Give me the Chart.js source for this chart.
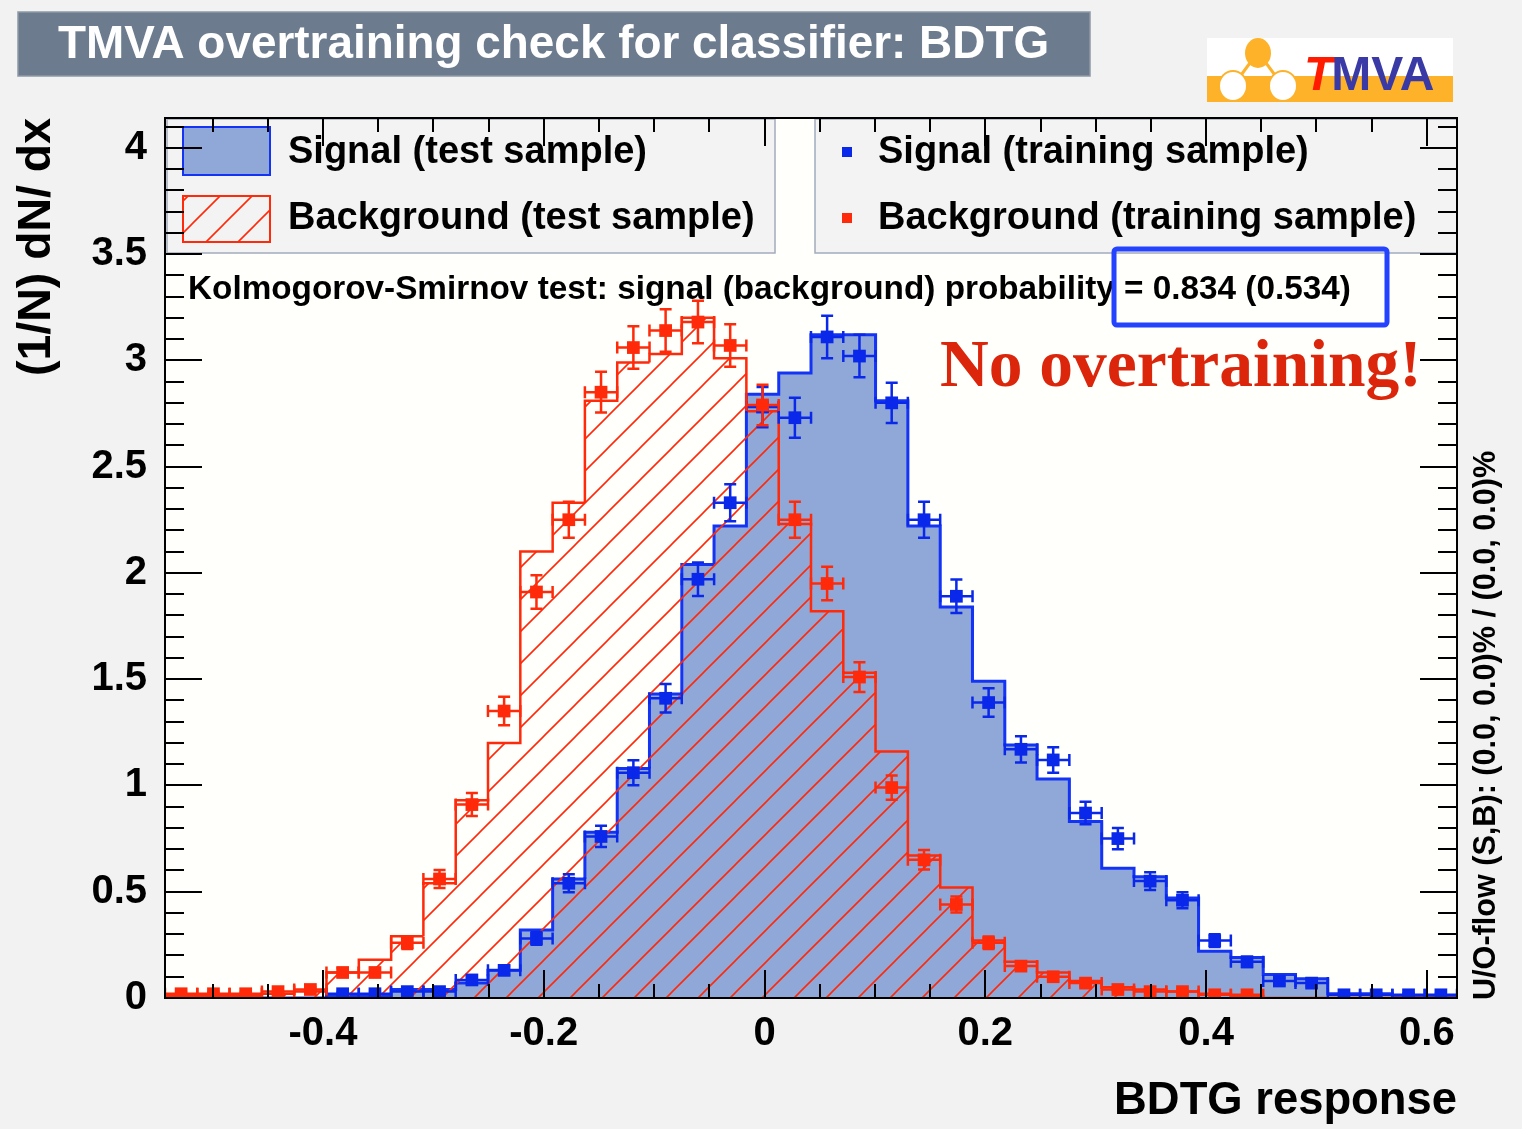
<!DOCTYPE html>
<html><head><meta charset="utf-8">
<script src="https://cdn.jsdelivr.net/npm/chart.js@4.4.1/dist/chart.umd.min.js"></script>
<style>html,body{margin:0;padding:0;background:#f2f2f2;overflow:hidden}canvas{display:block}</style>
</head><body>
<canvas id="c" width="1522" height="1129" style="width:1522px;height:1129px"></canvas>
<script>
// ---------------- data ----------------
const BIN_CENTERS = [-0.5285,-0.4992,-0.4700,-0.4407,-0.4114,-0.3822,-0.3529,-0.3236,-0.2944,-0.2651,
  -0.2359,-0.2066,-0.1773,-0.1481,-0.1188,-0.0896,-0.0603,-0.0311,-0.0018,0.0275,
  0.0567,0.0860,0.1152,0.1445,0.1738,0.2030,0.2323,0.2615,0.2908,0.3201,
  0.3493,0.3786,0.4078,0.4371,0.4664,0.4956,0.5249,0.5541,0.5834,0.6127];
const BIN_WIDTH = 0.02926;
const X_MIN = -0.5431, X_MAX = 0.6273;
const Y_MIN = 0, Y_MAX = 4.14;
const X_TICKS = [-0.4, -0.2, 0, 0.2, 0.4, 0.6];
const Y_TICKS = [0, 0.5, 1, 1.5, 2, 2.5, 3, 3.5, 4];
const X_MINOR = 0.05, Y_MINOR = 0.1;

const SIG_TEST = [0,0,0,0,0,0.01,0.01,0.04,0.04,0.07,
  0.13,0.32,0.56,0.78,1.08,1.43,2.04,2.22,2.84,2.94,
  3.12,3.12,2.81,2.22,1.84,1.49,1.19,1.03,0.83,0.61,
  0.57,0.47,0.22,0.19,0.11,0.09,0.02,0.02,0.01,0.01];
const BKG_TEST = [0.01,0.01,0.01,0.02,0.03,0.12,0.18,0.29,0.54,0.93,
  1.20,2.10,2.33,2.81,2.99,3.03,3.20,3.01,2.76,2.23,
  1.82,1.53,1.16,0.67,0.52,0.27,0.17,0.12,0.08,0.05,
  0.04,0.03,0.02,0.01,0,0,0,0,0,0];
const SIG_TRAIN = [null,null,null,null,null,0.02,0.02,0.03,0.03,0.085,
  0.13,0.28,0.54,0.76,1.06,1.41,1.97,2.33,2.78,2.73,
  3.11,3.02,2.80,2.25,1.89,1.39,1.17,1.12,0.87,0.75,
  0.55,0.46,0.27,0.17,0.08,0.07,0.015,0.015,0.015,0.015];
const SIG_TRAIN_ERR = [0,0,0,0,0,0.008,0.008,0.01,0.01,0.016,
  0.02,0.03,0.042,0.05,0.059,0.067,0.079,0.087,0.095,0.094,
  0.10,0.10,0.095,0.085,0.079,0.067,0.062,0.06,0.053,0.05,
  0.042,0.038,0.03,0.024,0.016,0.015,0.007,0.007,0.007,0.007];
const BKG_TRAIN = [0.02,0.02,0.02,0.03,0.04,0.12,0.12,0.26,0.56,0.91,
  1.35,1.91,2.25,2.85,3.06,3.14,3.18,3.07,2.79,2.25,
  1.95,1.51,0.99,0.65,0.44,0.26,0.15,0.10,0.07,0.04,
  0.03,0.03,0.015,0.015,null,null,null,null,null,null];
const BKG_TRAIN_ERR = [0.008,0.008,0.008,0.01,0.011,0.02,0.02,0.029,0.042,0.054,
  0.067,0.079,0.085,0.096,0.10,0.10,0.10,0.10,0.095,0.085,
  0.079,0.07,0.057,0.046,0.038,0.029,0.022,0.018,0.015,0.011,
  0.01,0.01,0.007,0.007,0,0,0,0,0,0];

const TITLE = 'TMVA overtraining check for classifier: BDTG';
const X_TITLE = 'BDTG response';
const Y_TITLE = '(1/N) dN/ dx';
const LEGEND_LEFT = ['Signal (test sample)', 'Background (test sample)'];
const LEGEND_RIGHT = ['Signal (training sample)', 'Background (training sample)'];
const KS_TEXT = 'Kolmogorov-Smirnov test: signal (background) probability = 0.834 (0.534)';
const NOTE = 'No overtraining!';
const OVERFLOW = 'U/O-flow (S,B): (0.0, 0.0)% / (0.0, 0.0)%';

// ---------------- styles ----------------
const SANS = '"Liberation Sans", Arial, Helvetica, sans-serif';
const SERIF = '"Liberation Serif", "Times New Roman", serif';
const BLUE_LINE = '#1434f5', BLUE_FILL = '#90a8d8', BLUE_PT = '#0a28ea';
const RED = '#ff2a0a';

const measureCtx = document.createElement('canvas').getContext('2d');
function fitSize(text, width, weight, family) {
  measureCtx.font = weight + ' 100px ' + family;
  return 100 * width / measureCtx.measureText(text).width;
}

function makeHatch(color, s, lw) {
  const c = document.createElement('canvas'); c.width = s; c.height = s;
  const g = c.getContext('2d');
  g.strokeStyle = color; g.lineWidth = lw;
  g.beginPath();
  for (const k of [0, 1, 2]) { g.moveTo(-2, k * s + 2); g.lineTo(k * s + 2, -2); }
  g.stroke();
  return g.createPattern(c, 'repeat');
}
const HATCH = makeHatch(RED, 32, 1.6);

function stepData(vals) {
  const d = [];
  vals.forEach((v, i) => {
    d.push({x: BIN_CENTERS[i] - BIN_WIDTH / 2, y: v});
    d.push({x: BIN_CENTERS[i] + BIN_WIDTH / 2, y: v});
  });
  return d;
}
function pointData(vals, errs) {
  const d = [];
  vals.forEach((v, i) => { if (v !== null) d.push({x: BIN_CENTERS[i], y: v, e: errs[i]}); });
  return d;
}

const yTitleSize = fitSize(Y_TITLE, 258, 'bold', SANS);
const xTitleSize = fitSize(X_TITLE, 343, 'bold', SANS);

// ---------------- plugin ----------------
const rootStyle = {
  id: 'rootStyle',
  beforeDraw(chart) {
    const {ctx, chartArea: a} = chart;
    ctx.save();
    ctx.fillStyle = '#f2f2f2'; ctx.fillRect(0, 0, chart.width, chart.height);
    ctx.fillStyle = '#fffffc'; ctx.fillRect(a.left, a.top, a.right - a.left, a.bottom - a.top);
    ctx.restore();
  },
  afterDatasetDraw(chart, args) {
    const ds = chart.data.datasets[args.index];
    if (!ds.errColor) return;
    const {ctx, chartArea: a, scales: {x, y}} = chart;
    ctx.save();
    ctx.beginPath(); ctx.rect(a.left, a.top, a.right - a.left, a.bottom - a.top); ctx.clip();
    ctx.strokeStyle = ds.errColor; ctx.lineWidth = 2.5;
    const cap = 6;
    ds.data.forEach(p => {
      const px = x.getPixelForValue(p.x), py = y.getPixelForValue(p.y);
      const x0 = x.getPixelForValue(p.x - BIN_WIDTH / 2), x1 = x.getPixelForValue(p.x + BIN_WIDTH / 2);
      const y0 = y.getPixelForValue(p.y + p.e), y1 = y.getPixelForValue(p.y - p.e);
      ctx.beginPath();
      ctx.moveTo(x0, py); ctx.lineTo(x1, py);
      ctx.moveTo(x0, py - cap); ctx.lineTo(x0, py + cap);
      ctx.moveTo(x1, py - cap); ctx.lineTo(x1, py + cap);
      ctx.moveTo(px, y0); ctx.lineTo(px, y1);
      ctx.moveTo(px - cap, y0); ctx.lineTo(px + cap, y0);
      ctx.moveTo(px - cap, y1); ctx.lineTo(px + cap, y1);
      ctx.stroke();
    });
    ctx.restore();
  },
  afterDatasetsDraw(chart) {
    const {ctx, chartArea: a} = chart;
    ctx.save();
    // legend boxes
    ctx.fillStyle = '#f3f3f3'; ctx.strokeStyle = '#a3abbb'; ctx.lineWidth = 1.5;
    ctx.fillRect(a.left + 2, a.top + 1, 608, 134); ctx.strokeRect(a.left + 2, a.top + 1, 608, 134);
    ctx.fillRect(815, a.top + 1, a.right - 815, 134); ctx.strokeRect(815, a.top + 1, a.right - 815, 134);
    // swatches
    ctx.fillStyle = BLUE_FILL; ctx.fillRect(183, 127, 87, 48);
    ctx.strokeStyle = BLUE_LINE; ctx.lineWidth = 2; ctx.strokeRect(183, 127, 87, 48);
    ctx.fillStyle = HATCH; ctx.fillRect(183, 196, 87, 46);
    ctx.strokeStyle = RED; ctx.strokeRect(183, 196, 87, 46);
    ctx.fillStyle = BLUE_PT; ctx.fillRect(842, 147, 10, 10);
    ctx.fillStyle = RED; ctx.fillRect(842, 213, 10, 10);
    ctx.fillStyle = '#000';
    ctx.font = 'bold 38px ' + SANS; ctx.textBaseline = 'alphabetic'; ctx.textAlign = 'left';
    ctx.fillText(LEGEND_LEFT[0], 288, 163);
    ctx.fillText(LEGEND_LEFT[1], 288, 229);
    ctx.fillText(LEGEND_RIGHT[0], 878, 163);
    ctx.fillText(LEGEND_RIGHT[1], 878, 229);
    ctx.restore();
  },
  afterDraw(chart) {
    const {ctx, chartArea: a, scales: {x, y}} = chart;
    ctx.save();
    // frame + ticks on all sides
    ctx.strokeStyle = '#000'; ctx.lineWidth = 2;
    ctx.strokeRect(a.left, a.top, a.right - a.left, a.bottom - a.top);
    ctx.beginPath();
    const eps = 1e-6;
    for (let v = Math.ceil(X_MIN / X_MINOR) * X_MINOR; v <= X_MAX + eps; v += X_MINOR) {
      const major = X_TICKS.some(t => Math.abs(t - v) < 1e-4);
      const L = major ? 28 : 14, px = Math.round(x.getPixelForValue(v));
      ctx.moveTo(px, a.bottom); ctx.lineTo(px, a.bottom - L);
      ctx.moveTo(px, a.top); ctx.lineTo(px, a.top + L);
    }
    for (let v = 0; v <= Y_MAX + eps; v += Y_MINOR) {
      const major = Y_TICKS.some(t => Math.abs(t - v) < 1e-4);
      const L = major ? 37 : 19, py = Math.round(y.getPixelForValue(v));
      ctx.moveTo(a.left, py); ctx.lineTo(a.left + L, py);
      ctx.moveTo(a.right, py); ctx.lineTo(a.right - L, py);
    }
    ctx.stroke();

    // KS text
    const ksSize = fitSize(KS_TEXT, 1162, 'bold', SANS);
    ctx.fillStyle = '#000'; ctx.font = 'bold ' + ksSize.toFixed(1) + 'px ' + SANS;
    ctx.textAlign = 'left'; ctx.textBaseline = 'alphabetic';
    ctx.fillText(KS_TEXT, 188, 287 + 0.358 * ksSize);

    // highlight box
    ctx.strokeStyle = '#2443ff'; ctx.lineWidth = 5;
    ctx.beginPath();
    if (ctx.roundRect) ctx.roundRect(1114, 249, 273, 76, 3); else ctx.rect(1114, 249, 273, 76);
    ctx.stroke();

    // annotation
    const nSize = fitSize(NOTE, 482, 'bold', SERIF);
    ctx.fillStyle = '#dc260c'; ctx.font = 'bold ' + nSize.toFixed(1) + 'px ' + SERIF;
    ctx.fillText(NOTE, 940, 386);

    // overflow text (rotated)
    const oSize = fitSize(OVERFLOW, 550, 'bold', SANS);
    ctx.save();
    ctx.translate(1487, 1000); ctx.rotate(-Math.PI / 2);
    ctx.fillStyle = '#000'; ctx.font = 'bold ' + oSize.toFixed(1) + 'px ' + SANS;
    ctx.textBaseline = 'middle'; ctx.textAlign = 'left';
    ctx.fillText(OVERFLOW, 0, 0);
    ctx.restore();

    // title box
    ctx.fillStyle = '#6c7b8d'; ctx.fillRect(18, 12, 1072, 64);
    ctx.strokeStyle = '#8e99a7'; ctx.lineWidth = 1.5; ctx.strokeRect(18, 12, 1072, 64);
    const tSize = fitSize(TITLE, 992, 'bold', SANS);
    ctx.fillStyle = '#ffffff'; ctx.font = 'bold ' + tSize.toFixed(1) + 'px ' + SANS;
    ctx.textBaseline = 'alphabetic';
    ctx.fillText(TITLE, 58, 42 + 0.358 * tSize);

    // TMVA logo
    ctx.fillStyle = '#ffffff'; ctx.fillRect(1207, 38, 246, 64);
    ctx.fillStyle = '#fdb22a'; ctx.fillRect(1207, 76, 246, 26);
    ctx.strokeStyle = '#fdb22a'; ctx.lineWidth = 3;
    ctx.beginPath(); ctx.moveTo(1258, 52); ctx.lineTo(1233, 86); ctx.lineTo(1283, 86); ctx.closePath(); ctx.stroke();
    ctx.fillStyle = '#fdb22a';
    ctx.beginPath(); ctx.ellipse(1258, 53, 13, 15, 0, 0, Math.PI * 2); ctx.fill();
    ctx.fillStyle = '#ffffff'; ctx.strokeStyle = '#fdb22a'; ctx.lineWidth = 2;
    for (const cx of [1233, 1283]) { ctx.beginPath(); ctx.ellipse(cx, 86, 14, 15, 0, 0, Math.PI * 2); ctx.fill(); ctx.stroke(); }
    const lSize = 48;
    ctx.font = 'italic bold ' + lSize + 'px ' + SANS; ctx.fillStyle = '#ff1a00';
    ctx.fillText('T', 1304, 90);
    const tw = ctx.measureText('T').width;
    ctx.font = 'bold ' + lSize + 'px ' + SANS; ctx.fillStyle = '#3a3aa6';
    ctx.fillText('MVA', 1304 + tw - 2, 90);
    ctx.restore();
  }
};

// ---------------- chart ----------------
new Chart(document.getElementById('c'), {
  type: 'scatter',
  data: {
    datasets: [
      {type: 'line', label: LEGEND_LEFT[0], data: stepData(SIG_TEST), borderColor: BLUE_LINE, borderWidth: 3,
       backgroundColor: BLUE_FILL, fill: 'origin', pointRadius: 0, tension: 0, order: 4},
      {type: 'line', label: LEGEND_LEFT[1], data: stepData(BKG_TEST), borderColor: RED, borderWidth: 2.5,
       backgroundColor: HATCH, fill: 'origin', pointRadius: 0, tension: 0, order: 3},
      {type: 'scatter', label: LEGEND_RIGHT[0], data: pointData(SIG_TRAIN, SIG_TRAIN_ERR), pointStyle: 'rect',
       pointRadius: 9, backgroundColor: BLUE_PT, borderWidth: 0, errColor: BLUE_PT, order: 2},
      {type: 'scatter', label: LEGEND_RIGHT[1], data: pointData(BKG_TRAIN, BKG_TRAIN_ERR), pointStyle: 'rect',
       pointRadius: 9, backgroundColor: RED, borderWidth: 0, errColor: RED, order: 1}
    ]
  },
  options: {
    responsive: false, animation: false, devicePixelRatio: 1, events: [],
    layout: {padding: {left: 0, right: 65, top: 118, bottom: 0}},
    plugins: {legend: {display: false}, tooltip: {enabled: false}},
    scales: {
      x: {
        type: 'linear', min: X_MIN, max: X_MAX,
        grid: {display: false, drawTicks: false}, border: {display: false},
        afterBuildTicks: s => { s.ticks = X_TICKS.map(v => ({value: v})); },
        afterFit: s => { s.height = 131; },
        ticks: {autoSkip: false, maxRotation: 0, minRotation: 0, padding: 12, color: '#000',
                font: {family: SANS, weight: 'bold', size: 40}, callback: v => String(v)},
        title: {display: true, text: X_TITLE, align: 'end', color: '#000',
                font: {family: SANS, weight: 'bold', size: xTitleSize}, padding: {top: 0, bottom: 0}}
      },
      y: {
        type: 'linear', min: Y_MIN, max: Y_MAX,
        grid: {display: false, drawTicks: false}, border: {display: false},
        afterBuildTicks: s => { s.ticks = Y_TICKS.map(v => ({value: v})); },
        afterFit: s => { s.width = 165; },
        ticks: {autoSkip: false, padding: 18, color: '#000',
                font: {family: SANS, weight: 'bold', size: 40}, callback: v => String(v)},
        title: {display: true, text: Y_TITLE, align: 'end', color: '#000',
                font: {family: SANS, weight: 'bold', size: yTitleSize}, padding: {top: 9, bottom: 0}}
      }
    }
  },
  plugins: [rootStyle]
});
</script>
</body></html>
